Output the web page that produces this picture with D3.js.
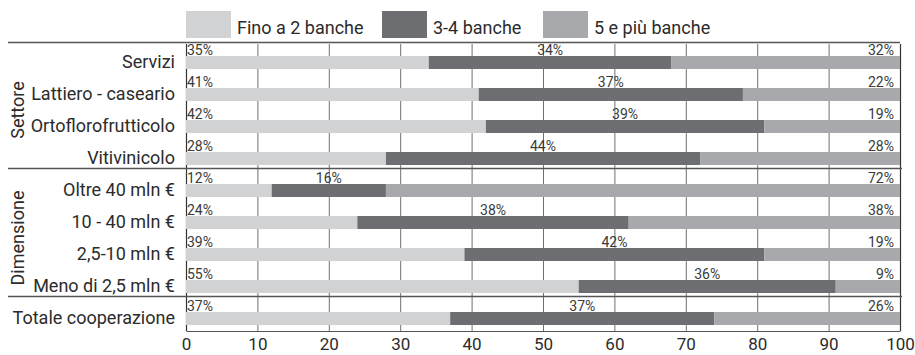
<!DOCTYPE html>
<html>
<head>
<meta charset="utf-8">
<script src="https://cdn.jsdelivr.net/npm/d3@7/dist/d3.min.js"></script>
<style>
  html, body { margin: 0; padding: 0; background: #fff; }
  svg { display: block; font-family: Roboto, "Liberation Sans", sans-serif; }
</style>
</head>
<body>
<svg id="chart" width="915" height="355"></svg>
<script>
// ---- data ----
const categories = ["Servizi", "Lattiero - caseario", "Ortoflorofrutticolo", "Vitivinicolo",
  "Oltre 40 mln €", "10 - 40 mln €", "2,5-10 mln €", "Meno di 2,5 mln €", "Totale cooperazione"];
const groups = [
  { name: "Settore", from: 0, to: 3 },
  { name: "Dimensione", from: 4, to: 7 },
  { name: "", from: 8, to: 8 }
];
const seriesNames = ["Fino a 2 banche", "3-4 banche", "5 e più banche"];
// bar lengths (%)
const fino2 = [34, 41, 42, 28, 12, 24, 39, 55, 37];
const banche34 = [34, 37, 39, 44, 16, 38, 42, 36, 37];
const banche5 = [32, 22, 19, 28, 72, 38, 19, 9, 26];
// printed labels
const labelFino2 = ["35%", "41%", "42%", "28%", "12%", "24%", "39%", "55%", "37%"];
const label34 = ["34%", "37%", "39%", "44%", "16%", "38%", "42%", "36%", "37%"];
const label5 = ["32%", "22%", "19%", "28%", "72%", "38%", "19%", "9%", "26%"];
const xTicks = [0, 10, 20, 30, 40, 50, 60, 70, 80, 90, 100];
const colors = ["#d1d2d4", "#6d6e71", "#a7a9ac"];

// ---- layout ----
const svg = d3.select("#chart");
const textColor = "#2b2b2b";
const x = d3.scaleLinear().domain([0, 100]).range([186, 900]);
const y = d3.scaleBand().domain(d3.range(categories.length)).range([42, 330]).paddingInner(0).paddingOuter(0);
const barOffset = 14, barH = 13;
const axisY = 331;

// vertical grid lines
svg.append("g").selectAll("line").data(xTicks.filter(t => t > 0 && t < 100)).join("line")
  .attr("x1", d => x(d) + 0.5).attr("x2", d => x(d) + 0.5)
  .attr("y1", 44).attr("y2", axisY)
  .attr("stroke", "#707070").attr("stroke-width", 1);
// 0 and 100 lines
svg.append("g").selectAll("line").data([0, 100]).join("line")
  .attr("x1", d => x(d) + 0.5).attr("x2", d => x(d) + 0.5)
  .attr("y1", 44).attr("y2", axisY)
  .attr("stroke", "#333").attr("stroke-width", 1.2);

// percent labels
const rows = categories.map((c, i) => ({
  i, c,
  segs: [
    { s: 0, v: fino2[i], col: colors[0] },
    { s: fino2[i], v: banche34[i], col: colors[1] },
    { s: fino2[i] + banche34[i], v: banche5[i], col: colors[2] }
  ]
}));

const lbl = svg.append("g").attr("font-size", 14).attr("fill", "#3a3a3a");
rows.forEach(r => {
  const by = y(r.i) + barOffset;
  lbl.append("text").attr("x", x(0) + 1).attr("y", by - 1).attr("text-anchor", "start").text(labelFino2[r.i]);
  lbl.append("text").attr("x", x(fino2[r.i] + banche34[r.i] / 2)).attr("y", by - 1).attr("text-anchor", "middle").text(label34[r.i]);
  lbl.append("text").attr("x", x(100) - 6).attr("y", by - 1).attr("text-anchor", "end").text(label5[r.i]);
});

// bars
const barsG = svg.append("g");
rows.forEach(r => {
  barsG.selectAll(null).data(r.segs).join("rect")
    .attr("x", d => x(d.s)).attr("width", d => x(d.s + d.v) - x(d.s))
    .attr("y", y(r.i) + barOffset).attr("height", barH)
    .attr("fill", d => d.col);
});

// category labels
svg.append("g").selectAll("text").data(categories).join("text")
  .attr("x", 175).attr("y", (d, i) => y(i) + barOffset + 12)
  .attr("text-anchor", "end").attr("font-size", 18).attr("fill", textColor)
  .text(d => d);

// group labels (rotated)
groups.filter(g => g.name).forEach(g => {
  const cy = (y(g.from) + y(g.to) + y.bandwidth()) / 2 + 4;
  svg.append("text")
    .attr("transform", `translate(24,${cy}) rotate(-90)`)
    .attr("text-anchor", "middle").attr("font-size", 18).attr("fill", textColor)
    .text(g.name);
});

// horizontal separators
const sepYs = [42].concat(groups.slice(0, -1).map(g => y(g.to) + y.bandwidth() - 2));
svg.append("g").selectAll("line").data(sepYs).join("line")
  .attr("x1", 8).attr("x2", (d, i) => i === 0 ? 900 : 902)
  .attr("y1", d => d + 0.5).attr("y2", d => d + 0.5)
  .attr("stroke", "#555").attr("stroke-width", 1.5);

// bottom axis
const axis = d3.axisBottom(x).tickValues(xTicks).tickSize(0).tickPadding(7).tickFormat(d3.format("d"));
const ax = svg.append("g").attr("transform", `translate(0,${axisY})`).call(axis);
ax.select(".domain").attr("stroke", "#555").attr("stroke-width", 1.2);
ax.selectAll("text").attr("font-size", 17).attr("fill", textColor).attr("font-family", "Roboto, sans-serif");

// legend
const legendX = [186, 382, 543];
const lg = svg.append("g");
seriesNames.forEach((n, i) => {
  lg.append("rect").attr("x", legendX[i]).attr("y", 11).attr("width", 45).attr("height", 27).attr("fill", colors[i]);
  lg.append("text").attr("x", legendX[i] + 51).attr("y", 34).attr("font-size", 18).attr("fill", textColor).text(n);
});
</script>
</body>
</html>
